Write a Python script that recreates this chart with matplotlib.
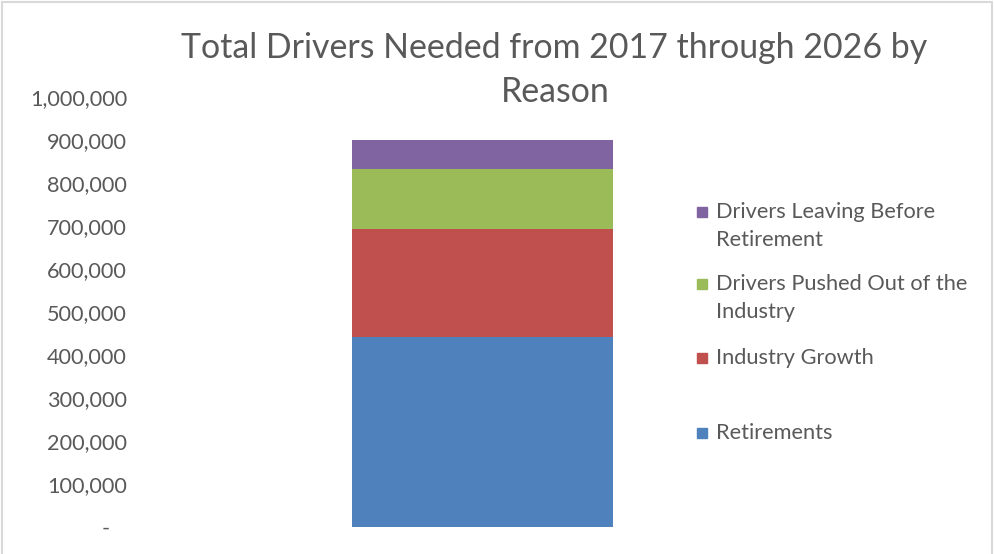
import matplotlib
matplotlib.use("Agg")
import matplotlib.pyplot as plt
from matplotlib.patches import Rectangle
from matplotlib.ticker import FuncFormatter

# ---------------- Data ---------------- #
reasons = ["Retirements", "Industry Growth",
           "Drivers Pushed Out of the\nIndustry", "Drivers Leaving Before\nRetirement"]
drivers = [443000, 251000, 139000, 66000]
colors = ["#4F81BD", "#C0504D", "#9BBB59", "#8064A2"]
y_ticks = list(range(0, 1000001, 100000))

W, H = 994, 554
text_gray = "#595959"
plt.rcParams['font.family'] = ['Lato', 'DejaVu Sans']

fig = plt.figure(figsize=(W / 100, H / 100), dpi=100)

# axes placed in pixel terms: left 140, right 680, bottom y=527, top y=97
ax = fig.add_axes([140 / W, (H - 527) / H, 540 / W, 430 / H])
ax.set_xlim(-0.634, 0.366)
ax.set_ylim(0, 1000000)

bottom = 0
for name, val, col in zip(reasons, drivers, colors):
    ax.bar(0, val, width=0.483, bottom=bottom, color=col, label=name)
    bottom += val

for s in ax.spines.values():
    s.set_visible(False)
ax.set_xticks([])
ax.set_yticks(y_ticks)
# Excel accounting style: zero shows as a dash, padded on the right
ax.yaxis.set_major_formatter(FuncFormatter(lambda v, p: "-   " if v == 0 else f"{int(v):,}"))
ax.tick_params(axis='y', length=0, pad=9.4, labelsize=15.6, labelcolor=text_gray)

fig.text(554 / W, 1 - 48 / H, "Total Drivers Needed from 2017 through 2026 by",
         ha='center', va='center', fontsize=24.4, color=text_gray)
fig.text(555 / W, 1 - 92 / H, "Reason",
         ha='center', va='center', fontsize=24.4, color=text_gray)

# legend drawn by hand to follow the uneven Excel spacing (top to bottom)
legend_y = [212, 284, 358, 433]
for name, col, yy in zip(reasons[::-1], colors[::-1], legend_y):
    fig.patches.append(Rectangle((697 / W, 1 - (yy + 5) / H), 10 / W, 10 / H,
                                 transform=fig.transFigure, color=col))
    for i, line in enumerate(name.split("\n")):
        fig.text(716 / W, 1 - (yy + i * 28) / H, line, ha='left', va='center',
                 fontsize=15.7, color=text_gray)

# chart-area border
fig.patches.append(Rectangle((2 / W, -0.1), (W - 4) / W, 1.1 - 2 / H,
                             transform=fig.transFigure, fill=False,
                             edgecolor="#D9D9D9", linewidth=1.5))

fig.savefig("out.png", dpi=100)
